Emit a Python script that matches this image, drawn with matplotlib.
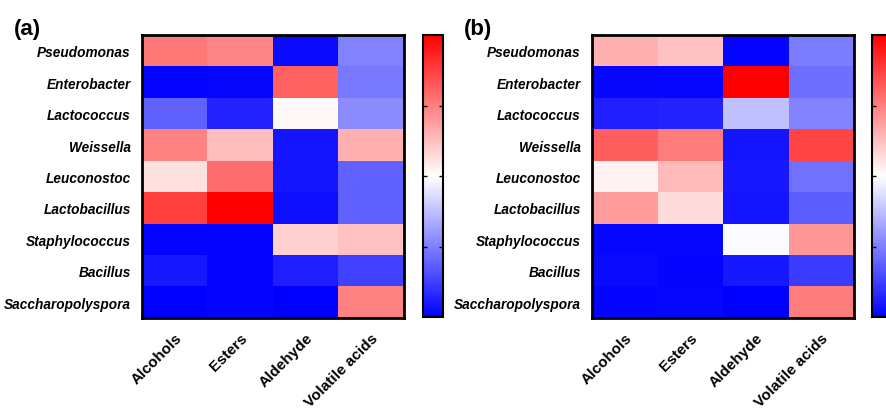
import matplotlib
matplotlib.use('Agg')
import matplotlib.pyplot as plt
import numpy as np

plt.rc('font', family='Liberation Sans')

genera = ['Pseudomonas', 'Enterobacter', 'Lactococcus', 'Weissella', 'Leuconostoc',
          'Lactobacillus', 'Staphylococcus', 'Bacillus', 'Saccharopolyspora']
compounds = ['Alcohols', 'Esters', 'Aldehyde', 'Volatile acids']

# correlation values
corr_a = [[0.53, 0.47, -0.96, -0.49],
          [-0.98, -0.97, 0.61, -0.53],
          [-0.61, -0.86, 0.03, -0.45],
          [0.49, 0.25, -0.92, 0.31],
          [0.12, 0.57, -0.92, -0.61],
          [0.75, 1.00, -0.94, -0.61],
          [-0.98, -0.98, 0.18, 0.24],
          [-0.90, -0.98, -0.88, -0.75],
          [-1.00, -0.98, -1.00, 0.49]]

# correlation values
corr_b = [[0.31, 0.24, -0.98, -0.51],
          [-0.97, -0.97, 1.00, -0.57],
          [-0.88, -0.86, -0.25, -0.49],
          [0.63, 0.51, -0.92, 0.73],
          [0.05, 0.27, -0.90, -0.55],
          [0.39, 0.14, -0.92, -0.63],
          [-0.97, -0.97, -0.02, 0.41],
          [-0.96, -0.98, -0.90, -0.76],
          [-0.98, -0.97, -1.00, 0.51]]

panel_labels = ['(a)', '(b)']


def draw_heatmap(fig, data, ax_rect, cb_rect, label, label_x):
    ax = fig.add_axes(ax_rect)
    im = ax.imshow(np.array(data), cmap='bwr', vmin=-1, vmax=1, aspect='auto',
                   interpolation='nearest')
    ax.set_yticks(np.arange(len(genera)))
    ax.set_yticklabels(genera, fontsize=9.8, fontweight='bold', fontstyle='italic')
    ax.set_xticks(np.arange(len(compounds)))
    ax.set_xticklabels(compounds, fontsize=11, fontweight='bold', rotation=45,
                       ha='right', rotation_mode='anchor')
    ax.tick_params(axis='y', length=0, pad=8)
    ax.tick_params(axis='x', length=0, pad=9)
    for s in ax.spines.values():
        s.set_linewidth(2)
    cax = fig.add_axes(cb_rect)
    cb = fig.colorbar(im, cax=cax)
    cb.set_ticks([-0.5, 0, 0.5])
    cax.tick_params(axis='y', which='both', direction='in', length=3, width=1,
                    left=True, right=True, labelleft=False, labelright=False)
    cb.outline.set_linewidth(1.5)
    fig.text(label_x, 0.915, label, fontsize=16, fontweight='bold')


fig = plt.figure(figsize=(8.86, 4.10), dpi=100)
draw_heatmap(fig, corr_a, [142 / 886, 0.222, 262 / 886, 0.690],
             [423 / 886, 0.224, 20 / 886, 0.688], panel_labels[0], 14 / 886)
draw_heatmap(fig, corr_b, [592 / 886, 0.222, 262 / 886, 0.690],
             [872 / 886, 0.224, 20 / 886, 0.688], panel_labels[1], 464 / 886)
fig.savefig('out.png', dpi=100)
